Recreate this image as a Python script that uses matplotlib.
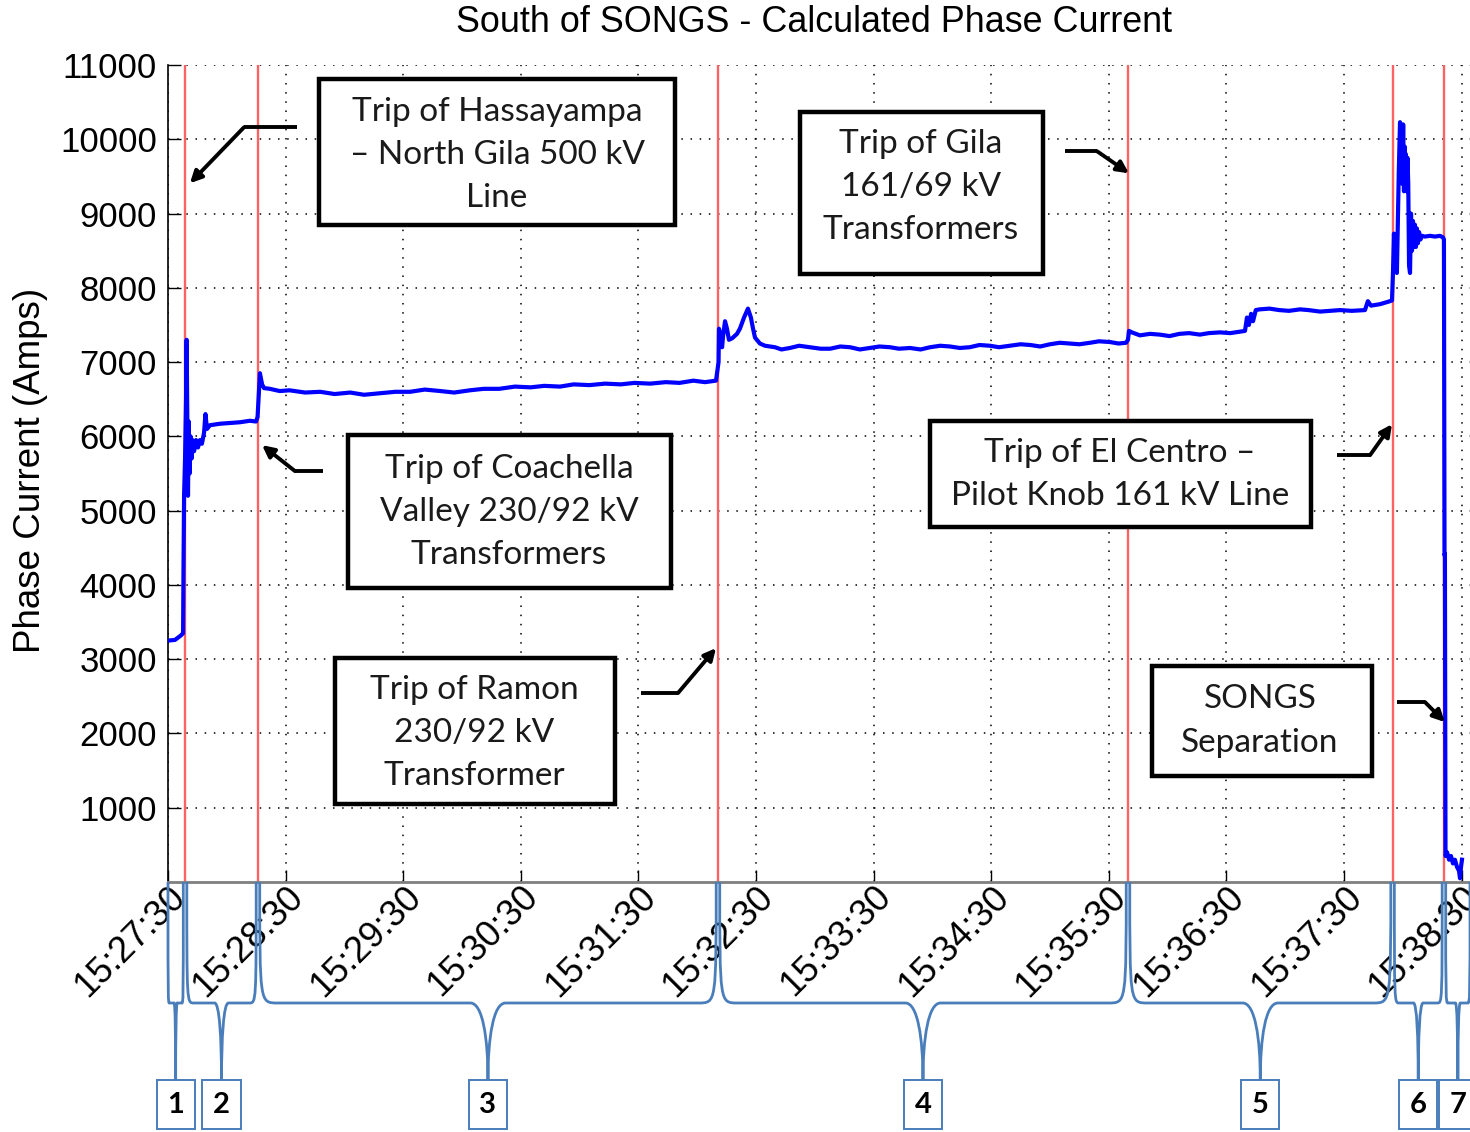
import numpy as np
import matplotlib
matplotlib.use('Agg')
import matplotlib.pyplot as plt
from matplotlib.path import Path
from matplotlib.patches import PathPatch, Rectangle
from matplotlib.transforms import blended_transform_factory

plt.rcParams['font.family'] = ['Liberation Sans', 'DejaVu Sans']

# seconds after 15:27:30 and calculated phase current (A), piece by piece
t_a = [0, 3.6, 6.6, 7.7, 7.9, 8.2, 8.7, 9.2, 9.5, 9.8, 10.2, 10.6, 11.0, 11.5, 12.0,
       12.5, 13.3, 14.3, 15.3, 16.3, 17.3, 18.4, 19.1, 19.9, 21.4, 26.5, 31.6, 36.7,
       41.8, 44.9, 45.7, 46.4, 46.9, 48, 49, 52, 57, 62, 70, 77.6, 85, 93, 100, 108,
       116, 123.5, 131, 139, 146, 154, 161, 169, 177, 185, 192, 200, 207, 215, 223,
       231, 238, 246, 254, 261, 268, 274, 279.6]
amps_a = [3250, 3260, 3320, 3350, 4200, 5200, 5700, 6500, 7300, 6400, 5200, 6200, 5500,
          6000, 5700, 5950, 5800, 5950, 5850, 5950, 5900, 6050, 6300, 6100, 6150, 6170,
          6180, 6190, 6210, 6200, 6260, 6600, 6850, 6700, 6650, 6640, 6610, 6620, 6590,
          6600, 6570, 6590, 6560, 6580, 6600, 6600, 6630, 6610, 6590, 6620, 6640, 6640,
          6670, 6660, 6680, 6670, 6700, 6690, 6710, 6700, 6720, 6710, 6730, 6720, 6750,
          6730, 6750]
t_b = [280.9, 281.1, 281.6, 282.7, 283.2, 284.2, 285.2, 286.2, 287.8, 290.3, 291.8,
       293.9, 295.9, 297.4, 298.5, 299.5, 302, 304.6, 309.7, 313, 317.3, 322, 327.6,
       333, 337.8, 343, 348, 353, 358, 363, 368.4, 373, 378.6, 384, 388.8, 394, 399,
       404, 409, 414, 419.4, 424, 429.6, 435, 440, 445, 450, 455, 460, 465, 470.4,
       475, 480.6, 485, 488.8]
amps_b = [7000, 7450, 7400, 7200, 7350, 7550, 7450, 7300, 7320, 7380, 7450, 7600, 7720,
          7600, 7450, 7330, 7250, 7220, 7200, 7170, 7190, 7220, 7200, 7180, 7180, 7210,
          7200, 7170, 7190, 7210, 7200, 7180, 7190, 7170, 7200, 7220, 7210, 7190, 7200,
          7230, 7220, 7200, 7220, 7240, 7230, 7210, 7240, 7260, 7250, 7240, 7260, 7280,
          7270, 7250, 7260]
t_c = [489.8, 490.3, 491.8, 495.9, 501, 506, 511, 516, 521, 526.5, 531, 536.7, 542,
       547, 549.5, 550.5, 551.5, 552.6, 553.6, 555, 557, 562, 567, 572, 577.6, 582,
       587.8, 593, 598, 604, 610.7, 612.2, 613.8, 618.4, 623.5, 624.5]
amps_c = [7300, 7420, 7400, 7360, 7380, 7370, 7350, 7380, 7390, 7370, 7390, 7400, 7390,
          7410, 7420, 7600, 7500, 7650, 7550, 7700, 7710, 7720, 7700, 7690, 7710, 7700,
          7680, 7690, 7700, 7690, 7700, 7820, 7760, 7780, 7820, 7830]
t_d = [625, 625.5, 626, 626.5, 627, 627.6, 628, 628.6, 629, 629.3, 629.8, 630.2, 630.6,
       631, 631.3, 631.6, 632, 632.4, 632.8, 633.2, 633.7, 634.2, 634.7, 635.2, 635.7,
       636.2, 636.7, 637.2, 637.7, 638.3, 639, 639.8, 641.3, 643.9, 646.4, 649, 650.5,
       651, 651.3, 651.5, 651.8, 652.6, 653.6, 654.6, 655.6, 656.6, 657.7, 658.7, 659.2,
       659.7, 660.2]
amps_d = [8200, 8730, 8300, 8700, 8200, 9050, 9600, 10230, 9500, 10100, 9400, 10200,
          9300, 9900, 9400, 9800, 9300, 9750, 9400, 8300, 8200, 9000, 8500, 8900, 8550,
          8850, 8550, 8800, 8600, 8750, 8650, 8700, 8690, 8700, 8690, 8700, 8680, 8650,
          4400, 4420, 350, 400, 300, 350, 250, 300, 200, 150, 50, 200, 300]

event_times = [8.7, 45.9, 280.6, 489.8, 624.8, 651.0]
t_end = 664.3
tick_secs = list(range(0, 661, 60))
tick_labels = ['15:%02d:30' % m for m in range(27, 39)]
y_ticks = list(range(1000, 11001, 1000))

# annotation: text, text centre, box (t0, t1, a0, a1), arrow (start, elbow, tip)
notes = [
    ('Trip of Hassayampa\n\u2013 North Gila 500 kV\nLine', (167.9, 9790), (77.0, 258.7, 8843, 10807),
     [(65.8, 10162), (38.8, 10162), (11.2, 9408)]),
    ('Trip of Coachella\nValley 230/92 kV\nTransformers', (174.0, 4980), (91.8, 256.6, 3957, 6016),
     [(79.1, 5532), (64.8, 5532), (48.0, 5882)]),
    ('Trip of Ramon\n230/92 kV\nTransformer', (156.1, 2005), (85.2, 228.1, 1050, 3015),
     [(241.3, 2544), (260.2, 2544), (279.6, 3149)]),
    ('Trip of Gila\n161/69 kV\nTransformers', (384.2, 9354), (322.4, 446.4, 8183, 10363),
     [(457.7, 9839), (474.0, 9839), (490.3, 9542)]),
    ('Trip of El Centro \u2013\nPilot Knob 161 kV Line', (485.7, 5491), (388.8, 583.2, 4778, 6205),
     [(596.4, 5747), (613.3, 5747), (624.5, 6164)]),
    ('SONGS\nSeparation', (557.1, 2167), (502.0, 614.3, 1427, 2907),
     [(627.0, 2423), (641.3, 2423), (651.5, 2153)]),
]
segment_ids = ['1', '2', '3', '4', '5', '6', '7']

t_sec = np.concatenate([t_a, t_b, t_c, t_d])
amps = np.concatenate([amps_a, amps_b, amps_c, amps_d])

W, H = 1470, 1132
fig = plt.figure(figsize=(W / 100, H / 100), dpi=100)
ax = fig.add_axes([168 / W, 1 - 882 / H, (W - 168) / W, (882 - 65) / H])

for te in event_times:
    ax.axvline(te, color='#ff6262', lw=1.7, zorder=2)
ax.plot(t_sec, amps, color='#0000ff', lw=3.0, zorder=3)

ax.set_xlim(0, t_end)
ax.set_ylim(0, 11000)
ax.set_xticks(tick_secs)
ax.set_xticklabels(tick_labels, rotation=45, ha='right', va='top', rotation_mode='anchor')
ax.set_yticks(y_ticks)
ax.tick_params(direction='in', length=9, width=1, labelsize=25, pad=8)
ax.tick_params(axis='x', pad=-2, labelsize=26)
ax.grid(True, color='k', linestyle=(0, (1, 5)), lw=1.1)
ax.spines['top'].set_visible(False)
ax.spines['right'].set_visible(False)
ax.spines['left'].set_linewidth(1.2)
ax.spines['bottom'].set_color('#7f7f7f')
ax.spines['bottom'].set_linewidth(2.0)

fig.text(814 / W, 1 - 23 / H, 'South of SONGS - Calculated Phase Current', fontsize=25.8,
         ha='center', va='center')
fig.text(31 / W, 1 - 470 / H, 'Phase Current (Amps)', fontsize=26.5, rotation=90,
         ha='center', va='center')

box_font = ['Lato', 'DejaVu Sans']
for text, (tx, ty), (b0, b1, a0, a1), arrow in notes:
    ax.add_patch(Rectangle((b0, a0), b1 - b0, a1 - a0, fill=True, fc='white', ec='black',
                           lw=3.2, zorder=5))
    ax.text(tx, ty, text, ha='center', va='center', fontsize=24, family=box_font,
            color='#1a1a1a', linespacing=1.55, zorder=6)
    (x0, y0), (x1, y1), (x2, y2) = arrow
    ax.plot([x0, x1], [y0, y1], color='black', lw=2.8, solid_capstyle='butt', zorder=6)
    ax.annotate('', xy=(x2, y2), xytext=(x1, y1),
                arrowprops=dict(arrowstyle='-|>,head_length=0.7,head_width=0.35', lw=2.8,
                                color='black', shrinkA=0, shrinkB=0), zorder=6)

# braces under the time axis
tr = blended_transform_factory(ax.transData, fig.transFigure)
y_top, y_mid, y_bot = 1 - 882 / H, 1 - 1003 / H, 1 - 1080 / H
bounds = [0] + event_times + [t_end]
gap = 0.9
brace_col = '#4a7ebb'
for i, sid in enumerate(segment_ids):
    xa = bounds[i] + (gap if i > 0 else 0)
    xb = bounds[i + 1] - (gap if i < len(segment_ids) - 1 else 0)
    xc = (xa + xb) / 2
    r = min(9.0, (xb - xa) * 0.1)
    dy = y_mid - y_bot
    verts = [(xa, y_top), (xa, y_mid), (xa, y_mid), (xa + r, y_mid),
             (xc - r, y_mid),
             (xc - 0.3 * r, y_mid), (xc, y_mid - 0.45 * dy), (xc, y_bot),
             (xc, y_mid - 0.45 * dy), (xc + 0.3 * r, y_mid), (xc + r, y_mid),
             (xb - r, y_mid),
             (xb, y_mid), (xb, y_mid), (xb, y_top)]
    codes = [Path.MOVETO, Path.CURVE4, Path.CURVE4, Path.CURVE4,
             Path.LINETO,
             Path.CURVE4, Path.CURVE4, Path.CURVE4,
             Path.CURVE4, Path.CURVE4, Path.CURVE4,
             Path.LINETO,
             Path.CURVE4, Path.CURVE4, Path.CURVE4]
    fig.patches.append(PathPatch(Path(verts, codes), transform=tr, fill=False,
                                 ec=brace_col, lw=2.0, clip_on=False))
    bw = 19.4
    fig.patches.append(Rectangle((xc - bw / 2, 1 - 1129 / H), bw, 49 / H, transform=tr,
                                 fc='white', ec=brace_col, lw=1.4, clip_on=False))
    fig.text(xc, 1 - 1105 / H, sid, transform=tr, ha='center', va='center', fontsize=21,
             family=box_font, fontweight='bold', color='black')

fig.savefig('out.png', dpi=100)
